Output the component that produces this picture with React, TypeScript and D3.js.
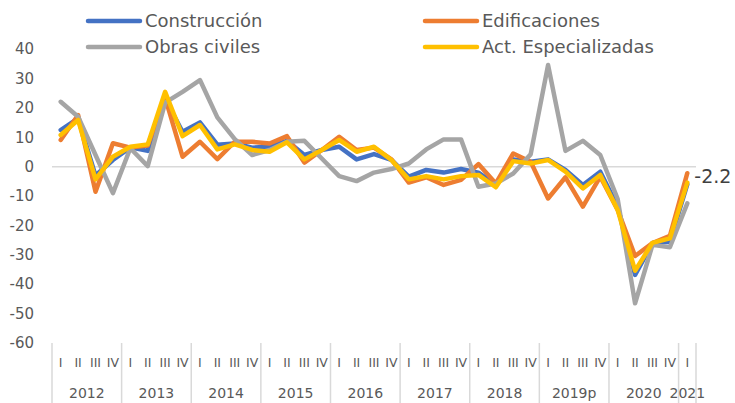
import { useEffect } from 'react'
import * as d3 from 'd3'

const years = ['2012', '2013', '2014', '2015', '2016', '2017', '2018', '2019p', '2020', '2021']
const quarterNames = ['I', 'II', 'III', 'IV']

const construccion = [12.5, 16.5, -3, 2.3, 6.6, 5.4, 23, 11.9, 15.1, 7.5, 7.9, 6.5, 6.8, 8.8, 4, 5.7, 6.8, 2.5, 4.3, 2.3, -3.4, -1.1, -2, -0.8, -2, -6.2, 2.5, 1.7, 2.5, -1.1, -6.2, -1.7, -13.6, -36.8, -26, -25.5, -6]
const edificaciones = [9.1, 17.6, -8.5, 8, 6.5, 7.2, 23.5, 3.4, 8.5, 2.6, 8.5, 8.5, 7.9, 10.4, 1.4, 5.7, 10.2, 5.7, 6.5, 2.5, -5.4, -3.6, -6.2, -4.5, 0.9, -5.7, 4.5, 1.7, -10.8, -3.6, -13.6, -3.4, -14.7, -30.4, -26, -23.5, -2.2]
const obrasCiviles = [22.1, 17, 4, -9, 6.3, 0.2, 21.8, 25.5, 29.5, 16.8, 9.4, 4, 5.7, 8.5, 8.8, 2.8, -3.2, -4.9, -2, -0.8, 1.1, 5.9, 9.3, 9.3, -6.8, -5.7, -2.3, 4.2, 34.6, 5.4, 8.8, 4, -11, -46.5, -26.6, -27.4, -12.5]
const actEspecializadas = [10.8, 15.9, -4.3, 3.4, 6.8, 7.6, 25.5, 10.4, 14.2, 5.9, 7.6, 5.7, 5.1, 8.3, 2.5, 5.7, 9.1, 5.1, 6.8, 2.3, -4.3, -3.2, -4.3, -3.2, -2.8, -7, 1.9, 1.1, 2.3, -1.7, -7.4, -2.8, -14.7, -35.4, -25.9, -24.4, -5.4]

const yTicks = [40, 30, 20, 10, 0, -10, -20, -30, -40, -50, -60]

const series = [
  { name: 'Construcción', values: construccion, color: '#4472C4' },
  { name: 'Edificaciones', values: edificaciones, color: '#ED7D31' },
  { name: 'Obras civiles', values: obrasCiviles, color: '#A5A5A5' },
  { name: 'Act. Especializadas', values: actEspecializadas, color: '#FFC000' },
]

const FONT = 'DejaVu Sans, sans-serif'
const TEXT = '#595959'

// quarter categories: every year has four quarters except the last one
const categories: { year: string; q: string }[] = []
years.forEach((yr, yi) => {
  const n = yi === years.length - 1 ? 1 : 4
  for (let k = 0; k < n; k++) categories.push({ year: yr, q: quarterNames[k] })
})

export default function App() {
  useEffect(() => {
    document.body.style.margin = '0'
  }, [])

  const x = d3
    .scaleBand<number>()
    .domain(d3.range(categories.length))
    .range([52, 696])
  const y = d3.scaleLinear().domain([-60, 40]).range([343, 49.2])
  const cx = (i: number) => (x(i) ?? 0) + x.bandwidth() / 2

  const line = d3
    .line<number>()
    .x((_, i) => cx(i))
    .y((d) => y(d))

  // year groups on the axis
  const yearGroups = years.map((yr) => {
    const idx = categories.map((c, i) => (c.year === yr ? i : -1)).filter((i) => i >= 0)
    const x0 = x(idx[0]) ?? 0
    const x1 = (x(idx[idx.length - 1]) ?? 0) + x.bandwidth()
    return { yr, x0, x1 }
  })

  const last = edificaciones.length - 1

  const legend = [
    { s: series[0], lx: 88, ly: 21 },
    { s: series[1], lx: 425, ly: 21 },
    { s: series[2], lx: 88, ly: 47 },
    { s: series[3], lx: 425, ly: 47 },
  ]

  return (
    <svg width={735} height={403} style={{ display: 'block' }} fontFamily={FONT}>
      <rect width={735} height={403} fill="#fff" />

      {/* y axis labels */}
      {yTicks.map((t) => (
        <text key={t} x={34} y={y(t)} dy="0.35em" textAnchor="end" fontSize={15} fill={TEXT}>
          {t}
        </text>
      ))}

      {/* zero line */}
      <line x1={52} x2={696} y1={y(0)} y2={y(0)} stroke="#D9D9D9" strokeWidth={1.5} />

      {/* category axis: separators, quarters, years */}
      {yearGroups.map((g) => (
        <line key={'s' + g.yr} x1={g.x0} x2={g.x0} y1={343} y2={403} stroke="#D9D9D9" strokeWidth={1.5} />
      ))}
      <line x1={696} x2={696} y1={343} y2={403} stroke="#D9D9D9" strokeWidth={1.5} />
      {categories.map((c, i) => (
        <text key={'q' + i} x={cx(i)} y={363} dy="0.35em" textAnchor="middle" fontSize={12.5} fill={TEXT}>
          {c.q}
        </text>
      ))}
      {yearGroups.map((g) => (
        <text key={'y' + g.yr} x={(g.x0 + g.x1) / 2} y={393} dy="0.35em" textAnchor="middle" fontSize={14} fill={TEXT}>
          {g.yr}
        </text>
      ))}

      {/* series */}
      {series.map((s) => (
        <path
          key={s.name}
          d={line(s.values) ?? ''}
          fill="none"
          stroke={s.color}
          strokeWidth={4.5}
          strokeLinejoin="round"
          strokeLinecap="round"
        />
      ))}

      {/* data label */}
      <text x={cx(last) + 7} y={176} dy="0.35em" fontSize={19} fill="#404040">
        {edificaciones[last]}
      </text>

      {/* legend */}
      {legend.map(({ s, lx, ly }) => (
        <g key={'l' + s.name}>
          <line x1={lx} x2={lx + 52} y1={ly} y2={ly} stroke={s.color} strokeWidth={4.5} strokeLinecap="round" />
          <text x={lx + 57} y={ly} dy="0.35em" fontSize={18} fill={TEXT}>
            {s.name}
          </text>
        </g>
      ))}
    </svg>
  )
}
